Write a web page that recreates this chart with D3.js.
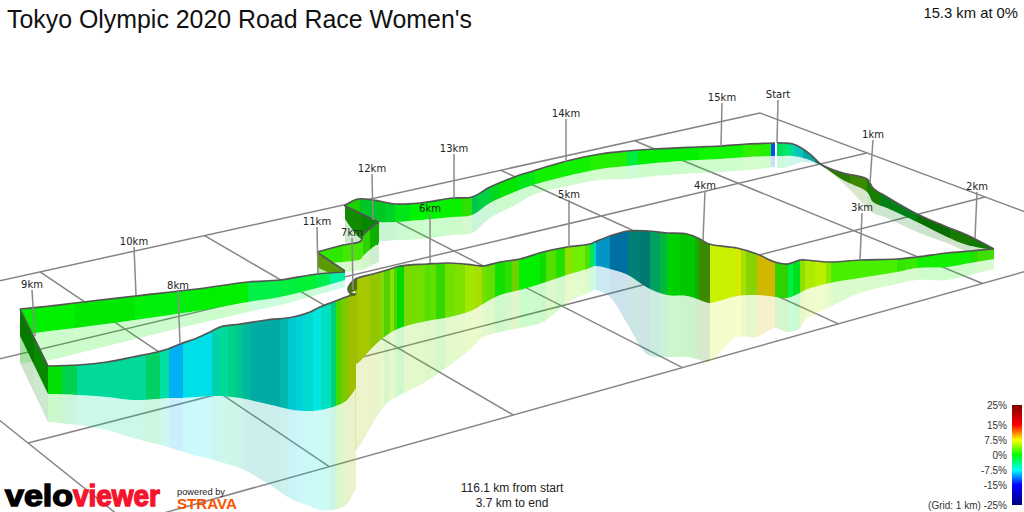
<!DOCTYPE html>
<html>
<head>
<meta charset="utf-8">
<title>Tokyo Olympic 2020 Road Race Women's</title>
<script src="https://cdn.jsdelivr.net/npm/d3@7"></script>
<style>
  html, body { margin: 0; padding: 0; background: #fff; }
  svg { display: block; }
</style>
</head>
<body>
<div id="chart"></div>
<script>
// Route stretches, projected units.
// Each row: x, road height, foot of the wall, foot of the shadow.
const farStretch = [[344,206,206,206],[358,199,213,215],[373,200,220,225],[379,201,222,240],[395,204,222,240],[420,203,220,239],[453,198,217,235],[472,197,215,233],[490,187,203,218],[517,176,191,204],[533,171,185,195],[563,162,177,187],[600,154,169,180],[627,151,166,179],[655,149,163,176],[697,147,160,173],[720,146,159,172],[747,144,157,170],[775,143,156,167]];
const startStretch = [[777,143,156,168],[783,143,156,168],[793,144,156,165],[803,149,158,162],[812,156,161,163],[822,165,166,166],[843,173,180,183],[867,179,192,208],[873,188,202,213],[887,197,208,218],[917,214,222,232],[947,227,237,243],[967,235,245,251],[994,249,250,250]];
const climbStretch = [[994,249,259,269],[970,251,263,275],[947,253,267,280],[917,257,268,280],[897,259,272,284],[860,260,278,293],[830,262,283,307],[805,260,290,320],[800,260,293,328],[787,264,298,332],[775,262,297,328],[757,254,295,337],[737,248,296,337],[709,244,303,362],[700,239,300,360],[687,234,296,357],[667,233,295,357],[648,231,288,355],[628,231,275,325],[610,236,269,297],[595,242,266,290],[590,244,268,292],[567,247,275,303],[543,252,283,322],[520,259,290,328],[500,262,295,332],[483,266,304,337],[473,265,310,347],[450,263,317,365],[427,264,321,381],[400,266,328,395],[387,270,335,403],[373,274,347,423],[358,278,363,448],[355,280,364,450]];
const kinkStretch = [[357,278,290,290],[351,283,293,293],[348,289,296,296],[350,293,296,296],[355,294,296,296]];
const descentStretch = [[356,294,388,488],[346,297,401,505],[333,302,407,510],[320,307,410,510],[310,312,411,506],[293,317,410,500],[267,320,404,483],[240,324,398,468],[220,327,396,462],[210,332,396,459],[197,338,397,456],[180,344,398,451],[168,349,398,447],[157,352,399,444],[133,357,400,438],[107,362,397,430],[78,365,395,425],[48,366,394,422]];
const cornerStretch = [[48,366,394,422],[20,309,336,363]];
const returnStretch = [[20,309,335,363],[50,306,331,360],[75,303,328,354],[135,296,320,339],[197,289,311,324],[248,282,302,312],[280,280,297,305],[317,274,288,295],[345,272,280,287]];
const hairpinStretch = [[345,271,274,274],[333,263,274,277],[317,252,267,275]];
const riseStretch = [[317,252,263,275],[343,245,262,273],[361,241,259,270],[363,235,256,270],[372,227,248,265],[379,222,243,262]];
const backStretch = [[378,222,245,245],[362,214,240,243],[345,206,219,243]];

// Gradient strips along each stretch. Each row: strip end x, grade %, light.
const farStrips = [[360,1,.82],[385,-1.4,.78],[395,-1.4,.82],[410,-.7,.9],[440,0,.96],[462,.3,.94],[472,1.6,.88],[478,-3,.78],[490,-2.3,.82],[500,-1.1,.85],[517,0,.9],[535,-.7,.9],[563,.5,.94],[590,.5,.94],[627,1.1,.94],[638,-2,.93],[658,0,.94],[698,0,.94],[743,.5,.96],[760,1.5,.94],[771,1.1,.94],[776,-12.5,.94]];
const startStrips = [[783,-3,.88],[790,-3.5,.91],[795,-5.5,.85],[803,-6.9,.78],[815,-7.1,.66],[822,-6.5,.5],[850,2.5,.48],[867,3.2,.54],[880,1.4,.5],[917,-1.2,.5],[950,.5,.44],[970,1.5,.48],[994,1,.48]];
const climbStrips = [[358,6.2,.75],[370,6.3,.78],[380,5.4,.78],[384,4.4,.85],[390,2.9,.82],[394,4.8,.88],[397,2.2,.85],[404,0,.85],[412,4.2,.85],[425,3.75,.88],[430,2.7,.88],[436,3.2,.88],[445,1.7,.85],[455,3.75,.88],[465,4.3,.88],[475,5.2,.91],[482,5.6,.88],[487,3.75,.88],[495,3.2,.88],[505,.5,.88],[512,1.6,.88],[519,4,.82],[540,0,.94],[546,.5,.85],[556,2.7,.88],[565,1.1,.88],[572,4.8,.88],[585,3.5,.94],[590,2.7,.88],[594,-3.1,.91],[596,-6.7,.85],[610,-9.3,.78],[628,-9.8,.63],[640,-7,.5],[650,-6.9,.48],[660,-4.5,.63],[667,-2.6,.72],[680,0,.82],[695,0,.78],[699,.7,.69],[710,3.2,.54],[736,6.25,.94],[741,7,.91],[746,5.6,.88],[757,4.8,.83],[775,8.4,.82],[788,1.7,.82],[793,-2,.94],[800,-1.1,.88],[805,4.8,.88],[815,5.6,.92],[826,5.75,.94],[831,4.4,.91],[897,2.25,.94],[905,1.55,.91],[917,1.8,.92],[970,.5,.94],[977,1.1,.88],[994,2.1,.88]];
const kinkStrips = [[358,4.5,.48]];
const descentStrips = [[62,0,.88],[77,-2.9,.82],[146,-5.3,.85],[160,-3.5,.82],[169,-5.4,.88],[183,-9.5,.94],[212,-7.8,.91],[219,-6.3,.82],[228,-5.3,.85],[236,-4.9,.82],[243,-5.4,.78],[251,-6.5,.72],[280,-7.2,.67],[288,-7.2,.72],[296,-7.8,.82],[303,-7.8,.85],[313,-7.2,.85],[321,-7.2,.91],[331,-6.4,.88],[336,-4,.82],[341,2.2,.85],[348,4.8,.78],[358,6.2,.75]];
const cornerStrips = [[34,.4,.48],[48,.4,.54]];
const returnStrips = [[75,0,.94],[135,0,.91],[196,-.3,.94],[248,0,.94],[280,-2.2,.94],[300,-1.9,.94],[317,-1.6,.94],[330,-2.5,.94],[345,-5,.94]];
const hairpinStrips = [[345,4.4,.6]];
const riseStrips = [[343,1.5,.91],[363,2.2,.91],[370,1.6,.82],[379,.6,.69]];
const backStrips = [[362,.9,.55],[378,.4,.52]];

// Grade legend
const gradeStops = [-25, -15, -7.5, 0, 7.5, 15, 25];
const gradeColors = ['#000080', '#0000ff', '#00ffff', '#00ff00', '#ffff00', '#ff0000', '#800000'];
const legendTicks = [25, 15, 7.5, 0, -7.5, -15, -25];

// Ground grid, in km
const gridAcross = [0, 1, 2, 3, 4, 5, 6];
const gridAlong = [0, 1, 2, 3];
const gridCorners = [[760, 113], [-137, 311], [28, 443], [985, 197]];

// Distance markers
const markNames = ['Start', '1km', '2km', '3km', '4km', '5km', '6km', '7km', '8km', '9km', '10km', '11km', '12km', '13km', '14km', '15km'];
const markX = [777, 870, 975, 860, 703, 569, 430, 353, 180, 35, 136, 318, 373, 454, 566, 721];
const markY = [143, 183, 238, 260, 240, 247, 263, 290, 344, 336, 295, 274, 220, 198, 162, 146];
const markTopX = [778, 873, 977, 862, 705, 569, 430, 352, 178, 32, 134, 317, 372, 454, 566, 722];
const markTopY = [100, 140, 192, 213, 191, 200, 214, 238, 291, 290, 247, 227, 174, 154, 119, 103];

const width = 1024;
const height = 512;

const svg = d3.select('#chart').append('svg')
  .attr('width', width)
  .attr('height', height)
  .style('font-family', '"Liberation Sans", Arial, sans-serif');

const defs = svg.append('defs');

const x = d3.scaleLinear().domain([0, 1024]).range([0, width]);
const y = d3.scaleLinear().domain([0, 512]).range([0, height]);
const gradeScale = d3.scaleLinear().domain(gradeStops).range(gradeColors).clamp(true);

function stripColor(grade, light) {
  const c = d3.rgb(gradeScale(grade));
  return d3.rgb(c.r * light, c.g * light, c.b * light).formatHex();
}

// Square to quad projection, for the ground grid
function makeGridProjection(corners, uMax, vMax) {
  const [[x0, y0], [x1, y1], [x2, y2], [x3, y3]] = corners;
  const dx1 = x1 - x2, dx2 = x3 - x2, sx = x0 - x1 + x2 - x3;
  const dy1 = y1 - y2, dy2 = y3 - y2, sy = y0 - y1 + y2 - y3;
  const den = dx1 * dy2 - dx2 * dy1;
  const g = (sx * dy2 - dx2 * sy) / den;
  const h = (dx1 * sy - sx * dy1) / den;
  const a = x1 - x0 + g * x1, b = x3 - x0 + h * x3;
  const d = y1 - y0 + g * y1, e = y3 - y0 + h * y3;
  return (u, v) => {
    const s = u / uMax, t = v / vMax, w = g * s + h * t + 1;
    return [x((a * s + b * t + x0) / w), y((d * s + e * t + y0) / w)];
  };
}

const project = makeGridProjection(gridCorners, 6, 2);
const uEnd = d3.max(gridAcross), vEnd = d3.max(gridAlong);

const gridSegments = [
  ...gridAlong.map(v => [project(0, v), project(uEnd, v)]),
  ...gridAcross.map(u => [project(u, 0), project(u, vEnd)])
];

svg.append('g').selectAll('line')
  .data(gridSegments)
  .enter()
  .append('line')
  .attr('x1', d => d[0][0])
  .attr('y1', d => d[0][1])
  .attr('x2', d => d[1][0])
  .attr('y2', d => d[1][1])
  .attr('stroke', '#858585')
  .attr('stroke-width', 1.5);

const curve = d3.curveCatmullRom.alpha(0.5);
const wallArea = d3.area().x(d => x(d[0])).y0(d => y(d[1])).y1(d => y(d[2])).curve(curve);
const shadowArea = d3.area().x(d => x(d[0])).y0(d => y(d[2])).y1(d => y(d[3])).curve(curve);
const roadLine = d3.line().x(d => x(d[0])).y(d => y(d[1])).curve(curve);

function drawStretch(rows, strips, name) {
  const g = svg.append('g').attr('class', name);
  const xMin = d3.min(rows, d => d[0]);

  const bands = strips.map((s, i) => ({
    from: i === 0 ? Math.min(xMin, s[0]) : strips[i - 1][0],
    to: s[0],
    color: stripColor(s[1], s[2])
  }));

  [['shadow', shadowArea, 0.2], ['wall', wallArea, 1]].forEach(([kind, area, alpha]) => {
    const id = `${name}-${kind}`;
    defs.append('clipPath').attr('id', id).append('path').attr('d', area(rows));
    g.append('g')
      .attr('clip-path', `url(#${id})`)
      .attr('opacity', alpha)
      .selectAll('rect')
      .data(bands)
      .enter()
      .append('rect')
      .attr('x', d => x(d.from))
      .attr('width', d => x(d.to) - x(d.from))
      .attr('y', 0)
      .attr('height', height)
      .attr('fill', d => d.color);
  });

  g.append('path')
    .attr('d', roadLine(rows))
    .attr('fill', 'none')
    .attr('stroke', '#555')
    .attr('stroke-width', 1.7);
}

// far to near
drawStretch(farStretch, farStrips, 'far');
drawStretch(startStretch, startStrips, 'start');
drawStretch(backStretch, backStrips, 'back');
drawStretch(riseStretch, riseStrips, 'rise');
drawStretch(hairpinStretch, hairpinStrips, 'hairpin');
drawStretch(returnStretch, returnStrips, 'return');
drawStretch(cornerStretch, cornerStrips, 'corner');
drawStretch(climbStretch, climbStrips, 'climb');
drawStretch(descentStretch, descentStrips, 'descent');
drawStretch(kinkStretch, kinkStrips, 'kink');

// Distance markers
const marks = svg.append('g').selectAll('g')
  .data(markNames)
  .enter()
  .append('g');

marks.append('line')
  .attr('x1', (d, i) => x(markTopX[i]))
  .attr('y1', (d, i) => y(markTopY[i]))
  .attr('x2', (d, i) => x(markX[i]))
  .attr('y2', (d, i) => y(markY[i]))
  .attr('stroke', '#8a8a8a')
  .attr('stroke-width', 1.5);

marks.append('text')
  .attr('x', (d, i) => x(markTopX[i]))
  .attr('y', (d, i) => y(markTopY[i]) - 2)
  .attr('text-anchor', 'middle')
  .style('font-family', '"DejaVu Sans", sans-serif')
  .style('font-size', '10px')
  .attr('fill', '#222')
  .text(d => d);

// Legend
const legendY = d3.scaleLinear().domain([25, -25]).range([405, 505]);
const legendGradient = defs.append('linearGradient')
  .attr('id', 'grade-bar')
  .attr('x1', 0).attr('x2', 0).attr('y1', 0).attr('y2', 1);
legendGradient.selectAll('stop')
  .data(gradeStops.slice().reverse())
  .enter()
  .append('stop')
  .attr('offset', d => (legendY(d) - 405) / 100)
  .attr('stop-color', d => gradeScale(d));

svg.append('rect')
  .attr('x', 1012)
  .attr('y', legendY(25))
  .attr('width', 10)
  .attr('height', legendY(-25) - legendY(25))
  .attr('fill', 'url(#grade-bar)');

const legendAxis = d3.axisLeft(legendY)
  .tickValues(legendTicks)
  .tickSize(0)
  .tickPadding(0)
  .tickFormat(d => (d === -25 ? '(Grid: 1 km) -25%' : `${d}%`));

const legendGroup = svg.append('g')
  .attr('transform', 'translate(1007,0)')
  .call(legendAxis);
legendGroup.select('.domain').remove();
legendGroup.selectAll('text')
  .style('font-family', '"Liberation Sans", Arial, sans-serif')
  .style('font-size', '10px')
  .attr('fill', '#333');

// Titles
svg.append('text')
  .attr('x', 7)
  .attr('y', 28)
  .style('font-size', '24.9px')
  .attr('fill', '#111')
  .text("Tokyo Olympic 2020 Road Race Women's");

svg.append('text')
  .attr('x', 1018)
  .attr('y', 18)
  .attr('text-anchor', 'end')
  .style('font-size', '14.8px')
  .attr('fill', '#111')
  .text('15.3 km at 0%');

svg.append('text')
  .attr('x', 512)
  .attr('y', 492)
  .attr('text-anchor', 'middle')
  .style('font-size', '12px')
  .attr('fill', '#222')
  .text('116.1 km from start');

svg.append('text')
  .attr('x', 512)
  .attr('y', 507)
  .attr('text-anchor', 'middle')
  .style('font-size', '12px')
  .attr('fill', '#222')
  .text('3.7 km to end');

// Logos
svg.append('text')
  .attr('x', 5)
  .attr('y', 505.5)
  .attr('textLength', 68)
  .attr('lengthAdjust', 'spacingAndGlyphs')
  .style('font-size', '30px')
  .style('font-weight', 'bold')
  .attr('fill', '#000')
  .attr('stroke', '#000')
  .attr('stroke-width', 1.4)
  .text('velo');

svg.append('text')
  .attr('x', 73)
  .attr('y', 505.5)
  .attr('textLength', 87)
  .attr('lengthAdjust', 'spacingAndGlyphs')
  .style('font-size', '30px')
  .style('font-weight', 'bold')
  .attr('fill', '#f5142d')
  .attr('stroke', '#f5142d')
  .attr('stroke-width', 1.4)
  .text('viewer');

svg.append('text')
  .attr('x', 177)
  .attr('y', 495)
  .attr('textLength', 48)
  .attr('lengthAdjust', 'spacingAndGlyphs')
  .style('font-size', '9px')
  .attr('fill', '#222')
  .text('powered by');

svg.append('text')
  .attr('x', 177)
  .attr('y', 508.5)
  .attr('textLength', 60)
  .attr('lengthAdjust', 'spacingAndGlyphs')
  .style('font-size', '14px')
  .style('font-weight', 'bold')
  .attr('fill', '#fc5200')
  .text('STRAVA');
</script>
</body>
</html>
